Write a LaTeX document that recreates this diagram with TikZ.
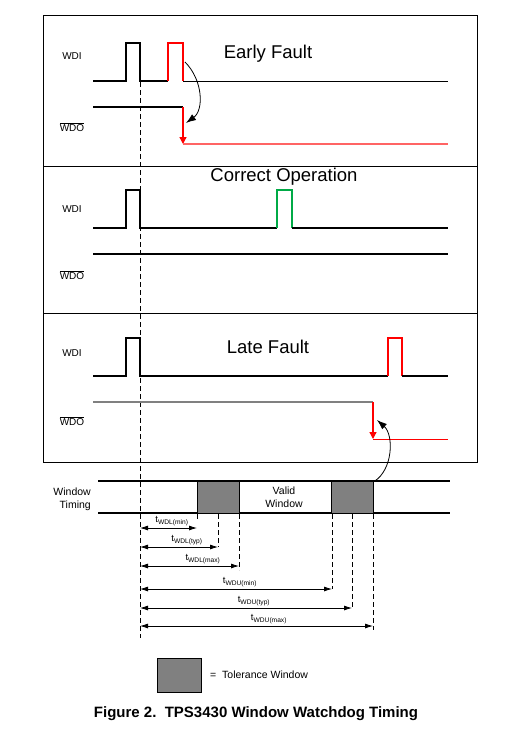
\documentclass[tikz,border=0pt]{standalone}
\usepackage{fontspec}
\setmainfont{Liberation Sans}
\usetikzlibrary{arrows.meta}
\definecolor{tgray}{RGB}{128,128,128}
\definecolor{lred}{RGB}{255,100,100}
\definecolor{sgreen}{RGB}{0,170,70}
\begin{document}
\begin{tikzpicture}[x=1pt,y=-1pt,
  sig/.style={line width=1.3pt},
  frame/.style={line width=0.9pt},
  lbl/.style={font=\fontsize{10}{11}\selectfont, anchor=center, inner sep=0pt},
  title/.style={font=\fontsize{18.5}{20}\selectfont, anchor=center, inner sep=0pt},
  dimline/.style={line width=0.8pt, {Latex[length=8pt,width=5pt]}-{Latex[length=8pt,width=5pt]}},
  vdash/.style={line width=0.8pt, dash pattern=on 5pt off 3pt},
  tlbl/.style={font=\fontsize{9.5}{10}\selectfont, inner sep=0pt, anchor=center},
  tol/.style={draw=black, line width=0.9pt, fill=tgray, rectangle, inner sep=0pt, minimum width=42pt, minimum height=32pt},
  curv/.style={line width=0.8pt, -{Latex[length=10pt,width=7pt]}}
]
\useasboundingbox (0,0) rectangle (516,744);
% frames
\draw[frame] (43,15) rectangle (477,462);
\draw[frame] (43,166) -- (477,166);
\draw[frame] (43,313) -- (477,313);
% dashed reference line
\draw[vdash] (140,82) -- (140,638);

% ---------- Panel 1: Early Fault
\node[lbl] (wdi1) at (72,56) {WDI};
\node[lbl] (wdo1) at (72,127) {$\overline{\mbox{WDO}}$};
\node[title] (t1) at (268,54) {Early Fault};
\draw[sig] (93,81) -- (126,81) -- (126,43) -- (140,43) -- (140,81) -- (168,81);
\draw[sig,red] (168,81) -- (168,43) -- (183,43) -- (183,81);
\draw[line width=1pt] (183,81) -- (448,81);
\draw[sig] (93,107) -- (183,107);
\draw[sig,red,-{Triangle[length=7pt,width=7pt]}] (183,107) -- (183,144);
\draw[sig,lred] (183,144) -- (448,144);
\coordinate (a1s) at (185,62);
\coordinate (a1e) at (186,123);
\draw[curv] (a1s) .. controls (203,80) and (204,110) .. (a1e);

% ---------- Panel 2: Correct Operation
\node[lbl] (wdi2) at (72,209) {WDI};
\node[lbl] (wdo2) at (72,275) {$\overline{\mbox{WDO}}$};
\node[title] (t2) at (284,177) {Correct Operation};
\draw[sig] (93,228) -- (126,228) -- (126,190) -- (140,190) -- (140,228) -- (277,228);
\draw[sig,sgreen] (277,228) -- (277,190) -- (292,190) -- (292,228);
\draw[sig] (292,228) -- (448,228);
\draw[sig] (93,254) -- (448,254);

% ---------- Panel 3: Late Fault
\node[lbl] (wdi3) at (72,353) {WDI};
\node[lbl] (wdo3) at (72,421) {$\overline{\mbox{WDO}}$};
\node[title] (t3) at (268,347) {Late Fault};
\draw[sig] (93,376) -- (126,376) -- (126,338) -- (140,338) -- (140,376) -- (388,376);
\draw[sig,red] (388,376) -- (388,338) -- (402,338) -- (402,376);
\draw[sig] (402,376) -- (448,376);
\draw[sig,tgray] (93,402) -- (373,402);
\draw[sig,red,-{Triangle[length=7pt,width=7pt]}] (373,402) -- (373,439);
\draw[line width=1.2pt,red] (373,439.5) -- (448,439.5);

% ---------- Window timing
\node[lbl, align=right, anchor=east, font=\fontsize{10.5}{13}\selectfont] (wt) at (91,499) {Window\\Timing};
\draw[sig] (98,481) -- (450,481);
\draw[sig] (98,513) -- (450,513);
\node[tol] (tw1) at (218,497) {};
\node[tol] (tw2) at (352.5,497) {};
\node[lbl, align=center, font=\fontsize{10.5}{13}\selectfont] (vw) at (284,497) {Valid\\Window};
\coordinate (a2e) at (377,420);
\draw[curv] ([yshift=-1pt]tw2.north east) .. controls (393,470) and (394,435) .. (a2e);

% dimension lines
\coordinate (z1) at (140,528);
\coordinate (z2) at (140,547);
\coordinate (z3) at (140,566);
\coordinate (z4) at (140,589);
\coordinate (z5) at (140,608);
\coordinate (z6) at (140,626);
\coordinate (e1) at (197,528);
\coordinate (e2) at (218,547);
\coordinate (e3) at (239,566);
\coordinate (e4) at (332,589);
\coordinate (e5) at (352,608);
\coordinate (e6) at (373,626);
\draw[vdash] (197,514) -- (197,520);
\draw[vdash] (218,514) -- (e2);
\draw[vdash] (239,514) -- (239,570);
\draw[vdash] (332,514) -- (e4);
\draw[vdash] (352,514) -- (e5);
\draw[vdash] (373,514) -- (373,630);
\draw[dimline] (z1) -- (e1);
\draw[dimline] (z2) -- (e2);
\draw[dimline] (z3) -- (e3);
\draw[dimline] (z4) -- (e4);
\draw[dimline] (z5) -- (e5);
\draw[dimline] (z6) -- (e6);
\node[tlbl] (l1) at (172,521) {t\textsubscript{WDL(min)}};
\node[tlbl] (l2) at (187,540) {t\textsubscript{WDL(typ)}};
\node[tlbl] (l3) at (203,559) {t\textsubscript{WDL(max)}};
\node[tlbl] (l4) at (240,582) {t\textsubscript{WDU(min)}};
\node[tlbl] (l5) at (254,601) {t\textsubscript{WDU(typ)}};
\node[tlbl] (l6) at (269,619) {t\textsubscript{WDU(max)}};

% legend
\node[tol, minimum width=44pt, minimum height=34pt] (leg) at (179,675) {};
\node[lbl, anchor=west, font=\fontsize{10.5}{12}\selectfont] (legt) at (210,675) {=\ \ Tolerance Window};

% caption
\node[inner sep=0pt, font=\bfseries\fontsize{15}{17}\selectfont] (cap) at (256,714) {Figure 2.\ \ TPS3430 Window Watchdog Timing};
\end{tikzpicture}
\end{document}
